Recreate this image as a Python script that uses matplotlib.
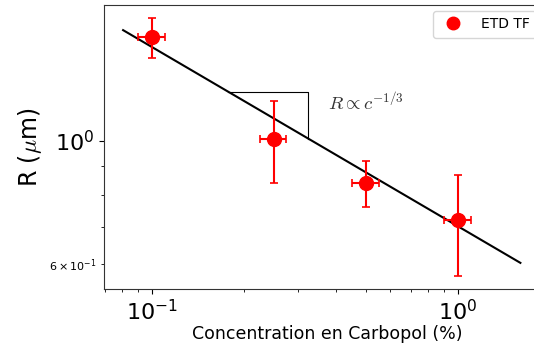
import numpy as np
import matplotlib
matplotlib.use("Agg")
import matplotlib.pyplot as plt
from matplotlib.lines import Line2D

plt.rcParams['mathtext.fontset'] = 'cm'

# data
concentration = [0.1, 0.25, 0.5, 1.0]          # [%]
radius        = [1.54, 1.01, 0.84, 0.72]       # [um]
radius_err_lo = [0.13, 0.17, 0.08, 0.15]
radius_err_hi = [0.13, 0.17, 0.08, 0.15]
conc_err      = [0.01, 0.025, 0.05, 0.1]

# power law fit R = A c^(-1/3)  (drawn slope reads ~ -0.32)
fit_prefactor = 0.702
fit_exponent  = -0.323
fit_range     = [0.0804, 1.6]

# slope triangle
tri_c = [0.177, 0.324]

fig = plt.figure(figsize=(5.34, 3.47), dpi=100)
ax = fig.add_axes([0.195, 0.167, 0.835, 0.819])

c_fit = np.geomspace(fit_range[0], fit_range[1], 50)
ax.plot(c_fit, fit_prefactor * c_fit**fit_exponent, color='black', lw=1.5, zorder=2)

r_top = fit_prefactor * tri_c[0]**fit_exponent
r_bot = fit_prefactor * tri_c[1]**fit_exponent
ax.plot([tri_c[0], tri_c[1], tri_c[1]], [r_top, r_top, r_bot], color='black', lw=0.8)
ax.text(0.375, 1.17, r'$R \propto c^{-1/3}$', fontsize=13.5, color='#333333', va='center')

ax.errorbar(concentration, radius, yerr=[radius_err_lo, radius_err_hi], xerr=conc_err,
            fmt='o', color='red', ecolor='red', markersize=10, elinewidth=1.5,
            capsize=3, capthick=1.2, zorder=3)

ax.set_xscale('log')
ax.set_yscale('log')
ax.set_xlim(0.0697, 2.0)
ax.set_ylim(0.541, 1.76)

ax.tick_params(axis='both', which='major', labelsize=16)
ax.tick_params(axis='both', which='minor', labelsize=8)
for s in ax.spines.values():
    s.set_color('#333333')

ax.set_xlabel('Concentration en Carbopol (%)', fontsize=12.5, labelpad=1)
ax.set_ylabel(r'R ($\mu$m)', fontsize=17)

handle = Line2D([], [], marker='o', color='red', linestyle='none', markersize=9)
ax.legend([handle], ['ETD TF'], loc='upper left', bbox_to_anchor=(433 / 534, 1 - 11 / 347),
          bbox_transform=fig.transFigure, borderaxespad=0, fontsize=10,
          handletextpad=1.0, borderpad=0.45)

fig.savefig('out.png', dpi=100)
